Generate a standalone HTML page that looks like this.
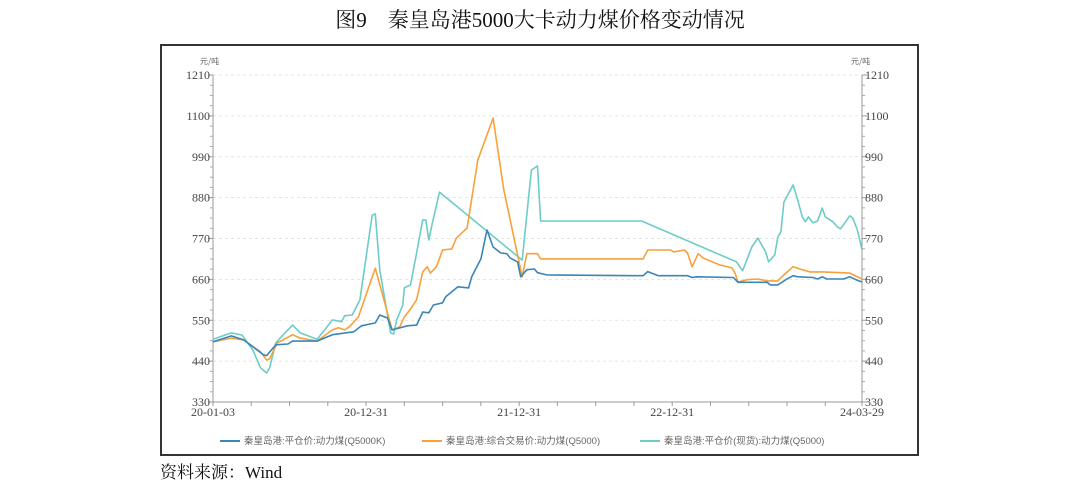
<!DOCTYPE html>
<html><head><meta charset="utf-8">
<style>
body{margin:0;width:1080px;height:486px;background:#fff;overflow:hidden;font-family:"Liberation Serif","Noto Serif CJK SC",serif;}
#title{position:absolute;left:0;top:4px;width:1080px;text-align:center;font-size:21px;color:#111;font-family:"Liberation Serif","Noto Serif CJK SC",serif;}
#frame{position:absolute;left:160px;top:44px;width:755px;height:408px;border:2px solid #333;}
#src{position:absolute;left:160px;top:458px;font-size:17px;color:#111;}
svg{position:absolute;left:0;top:0;}
</style></head><body>
<div id="title">图9　秦皇岛港5000大卡动力煤价格变动情况</div>
<div id="frame"></div>
<div id="src">资料来源：Wind</div>
<svg id="chart" width="1080" height="486"></svg>
<script>
// time in years since 2020-01-03
const yTicks=[330,440,550,660,770,880,990,1100,1210];
const xTickLabels=["20-01-03","20-12-31","21-12-31","22-12-31","24-03-29"];
const xTickTimes=[0,1,2,3,4.24];
const blueT=[0,.12,.2,.33,.35,.41,.49,.52,.68,.78,.92,.97,1.06,1.09,1.14,1.17,1.27,1.33,1.37,1.41,1.44,1.5,1.52,1.6,1.67,1.69,1.75,1.79,1.83,1.88,1.92,1.94,1.99,2.01,2.05,2.1,2.12,2.18,2.81,2.84,2.91,3.1,3.13,3.16,3.4,3.43,3.51,3.62,3.64,3.69,3.75,3.79,3.82,3.92,3.95,3.98,4.01,4.12,4.16,4.2,4.24];
const blueV=[492,508,497,457,455,484,486,494,494,511,519,535,543,564,556,524,535,537,572,570,591,597,613,640,637,667,715,793,747,731,729,718,707,667,686,688,678,672,670,681,670,670,665,667,665,652,652,652,645,645,661,670,667,665,661,667,661,661,667,659,653];
const orangeT=[0,.12,.2,.31,.35,.37,.42,.52,.57,.68,.78,.82,.86,.89,.95,1.06,1.17,1.22,1.25,1.29,1.33,1.37,1.4,1.42,1.46,1.5,1.56,1.59,1.66,1.73,1.83,1.9,2.02,2.05,2.12,2.14,2.81,2.84,2.99,3.01,3.08,3.1,3.13,3.17,3.2,3.28,3.31,3.39,3.41,3.43,3.49,3.56,3.62,3.69,3.73,3.79,3.85,3.9,3.99,4.16,4.24];
const orangeV=[492,502,497,465,443,446,489,511,502,494,524,530,524,532,559,690,524,532,559,580,605,680,694,677,694,739,742,771,798,981,1094,901,667,729,729,715,715,739,739,734,739,731,694,729,718,704,699,691,677,653,659,661,656,656,672,694,686,680,680,677,661];
const cyanT=[0,.12,.19,.26,.31,.35,.37,.41,.47,.52,.57,.68,.73,.78,.84,.86,.91,.96,1.0,1.04,1.06,1.09,1.16,1.18,1.2,1.24,1.25,1.29,1.33,1.37,1.39,1.41,1.43,1.48,1.55,2.02,2.08,2.12,2.14,2.8,3.42,3.46,3.52,3.56,3.61,3.63,3.67,3.69,3.71,3.73,3.79,3.82,3.85,3.87,3.89,3.92,3.95,3.98,4.0,4.05,4.08,4.1,4.16,4.18,4.21,4.24];
const cyanV=[499,516,510,470,422,408,422,489,516,537,516,499,524,551,546,562,564,605,720,833,836,685,516,513,551,591,637,645,731,820,820,766,806,895,871,712,954,965,817,817,707,683,747,771,734,707,726,774,788,868,914,874,828,815,828,812,817,852,828,815,801,796,831,825,793,739];
const svg=document.getElementById('chart');
const NS='http://www.w3.org/2000/svg';
const X0=213,X1=862,Y0=402,Y1=75,TMAX=4.24,VMIN=330,VMAX=1210;
const xs=t=>X0+t/TMAX*(X1-X0);
const ys=v=>Y0-(v-VMIN)/(VMAX-VMIN)*(Y0-Y1);
function mk(tag,attrs,parent){const e=document.createElementNS(NS,tag);for(const k in attrs)e.setAttribute(k,attrs[k]);(parent||svg).appendChild(e);return e;}
const g=mk('g',{});


yTicks.forEach(v=>{if(v>VMIN)mk('line',{x1:X0,x2:X1,y1:ys(v),y2:ys(v),stroke:'#ddd','stroke-dasharray':'3,3','stroke-width':0.8},g);});
// axes
const la=mk('line',{x1:X0,x2:X0,y1:Y1,y2:Y0,stroke:'#999','stroke-width':1});


const ra=mk('line',{x1:X1,x2:X1,y1:Y1,y2:Y0,stroke:'#999','stroke-width':1});


const xa=mk('line',{x1:X0,x2:X1,y1:Y0,y2:Y0,stroke:'#999','stroke-width':1});


for(let i=0;i<yTicks.length;i++){
  const v=yTicks[i],y=ys(v);
  mk('line',{x1:X0-5,x2:X0,y1:y,y2:y,stroke:'#999'});
  mk('line',{x1:X1,x2:X1+5,y1:y,y2:y,stroke:'#999'});
  if(i<yTicks.length-1){for(let k=1;k<4;k++){const yy=y-(ys(yTicks[i])-ys(yTicks[i+1]))*k/4;mk('line',{x1:X0-3,x2:X0,y1:yy,y2:yy,stroke:'#aaa'});mk('line',{x1:X1,x2:X1+3,y1:yy,y2:yy,stroke:'#aaa'});}}
  const tl=mk('text',{x:X0-3,y:y+4,'text-anchor':'end','font-size':12,fill:'#444'});tl.textContent=v;
  
  
  const tr=mk('text',{x:X1+3,y:y+4,'text-anchor':'start','font-size':12,fill:'#444'});tr.textContent=v;
  
  
}
for(let q=0;q<=17;q++){const t=q*0.25;if(t>TMAX)break;mk('line',{x1:xs(t),x2:xs(t),y1:Y0,y2:Y0+4,stroke:'#999'});}
mk('line',{x1:X1,x2:X1,y1:Y0,y2:Y0+4,stroke:'#999'});
xTickLabels.forEach((l,i)=>{const t=mk('text',{x:xs(xTickTimes[i]),y:Y0+14,'text-anchor':'middle','font-size':12,fill:'#444'});t.textContent=l;
  
  });
const u1=mk('text',{x:200,y:64,'font-size':8,fill:'#666','font-family':'Noto Sans CJK SC, sans-serif'});u1.textContent='元/吨';


const u2=mk('text',{x:851,y:64,'font-size':8,fill:'#666','font-family':'Noto Sans CJK SC, sans-serif'});u2.textContent='元/吨';


function line(T,V,color,name){const d=T.map((t,i)=>(i?'L':'M')+xs(t).toFixed(1)+','+ys(V[i]).toFixed(1)).join('');
  const p=mk('path',{d:d,fill:'none',stroke:color,'stroke-width':1.6,'stroke-linejoin':'round'});
  
  }
line(cyanT,cyanV,'#6cccc8','series-spot-fob-price');
line(orangeT,orangeV,'#f7a13c','series-composite-trade-price');
line(blueT,blueV,'#3a86b8','series-fob-price');
const legend=[['#3a86b8','秦皇岛港:平仓价:动力煤(Q5000K)',220],['#f7a13c','秦皇岛港:综合交易价:动力煤(Q5000)',422],['#6cccc8','秦皇岛港:平仓价(现货):动力煤(Q5000)',640]];
legend.forEach(l=>{const lg=mk('g',{});
  
  
  mk('line',{x1:l[2],x2:l[2]+20,y1:441,y2:441,stroke:l[0],'stroke-width':2},lg);
  const t=mk('text',{x:l[2]+24,y:444,'font-size':9.5,fill:'#666','font-family':'Liberation Sans, Noto Sans CJK SC, sans-serif'},lg);t.textContent=l[1];});
</script>
</body></html>
